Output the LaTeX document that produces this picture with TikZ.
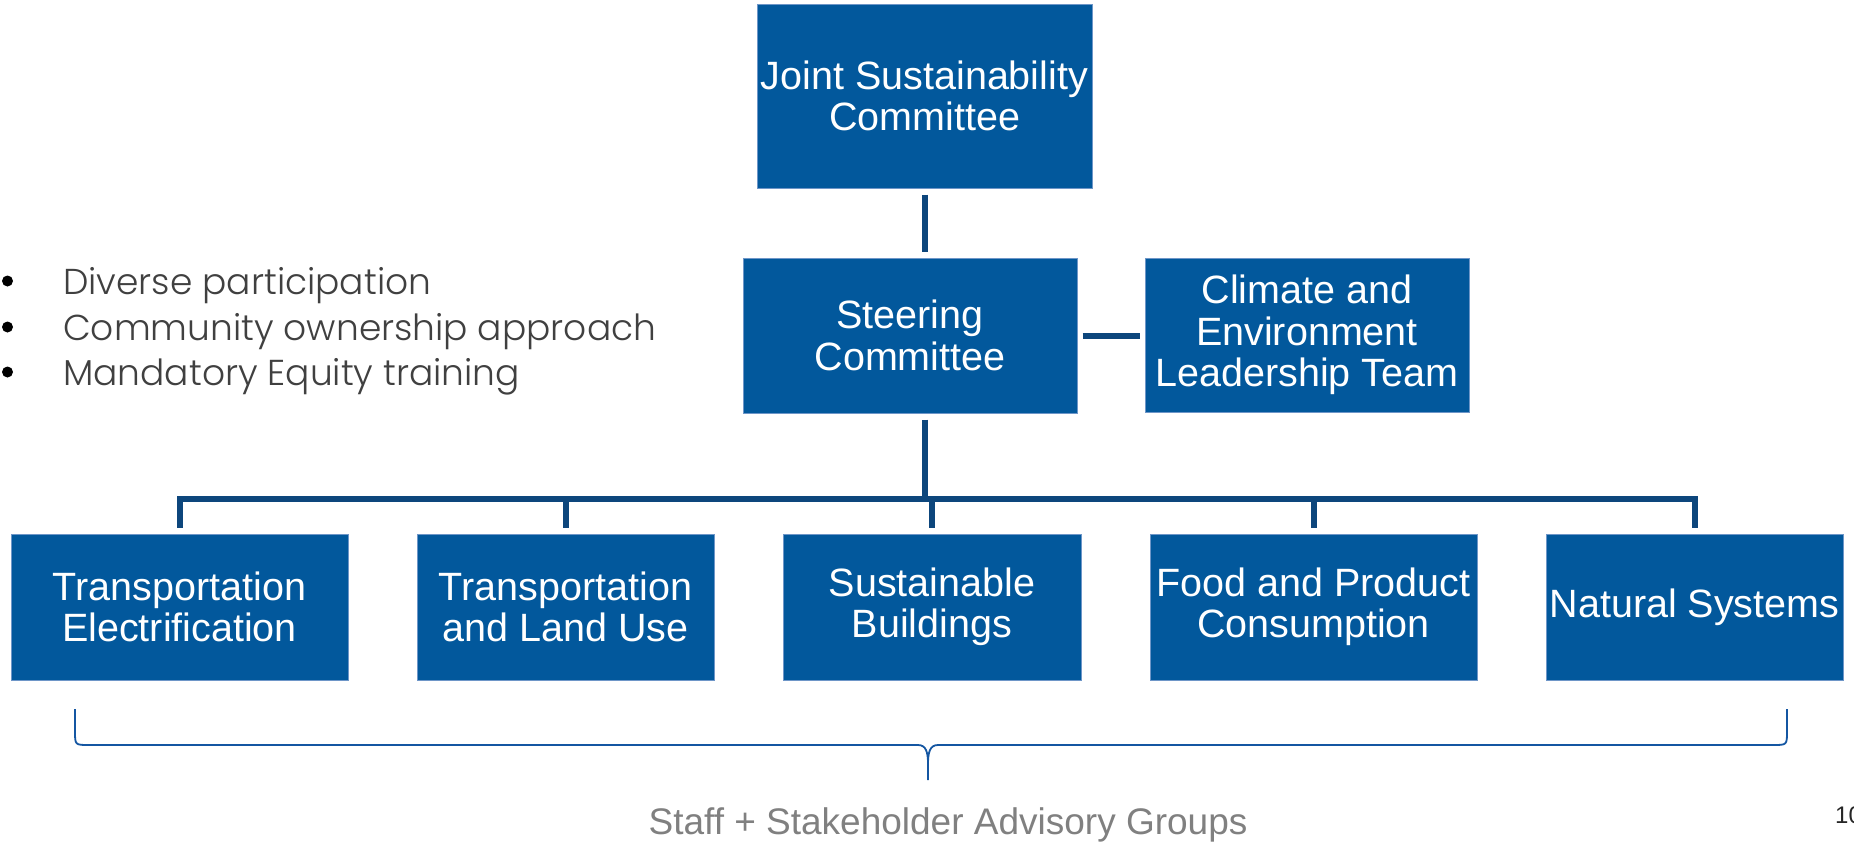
\documentclass[tikz,border=0pt]{standalone}
\usepackage{fontspec}
\setmainfont{Liberation Sans}
\newfontfamily\gothic{Poppins Light}
\definecolor{boxblue}{RGB}{2,88,156}
\definecolor{edgeblue}{RGB}{110,150,200}
\definecolor{connblue}{RGB}{13,70,124}
\definecolor{braceblue}{RGB}{20,86,162}
\definecolor{bulletgray}{RGB}{64,64,64}
\definecolor{staffgray}{RGB}{128,128,128}
\tikzset{
  orgbox/.style={draw=edgeblue, line width=1pt, fill=boxblue, text=white, inner sep=0pt,
    align=center, font=\fontsize{39.5}{41.5}\selectfont},
  conn/.style={draw=connblue, line width=6pt},
  bracepath/.style={draw=braceblue, line width=1.8pt},
  bullettext/.style={anchor=base west, inner sep=0pt, text=bulletgray, font=\gothic\fontsize{36}{40}\selectfont},
  bulletdot/.style={fill=black, draw=none}
}
\begin{document}
\begin{tikzpicture}[x=1pt,y=-1pt]
\useasboundingbox (0,0) rectangle (1854,844);
% boxes
\node[orgbox, minimum width=335pt, minimum height=184pt] (joint) at (924.5,96) {Joint Sustainability\\Committee};
\node[orgbox, minimum width=334pt, minimum height=155pt] (steer) at (910,335.5) {Steering\\Committee};
\node[orgbox, minimum width=324pt, minimum height=154pt] (clim) at (1307,335) {Climate and\\Environment\\Leadership Team};
\node[orgbox, minimum width=337pt, minimum height=146pt] (te) at (179.5,607) {Transportation\\Electrification};
\node[orgbox, minimum width=297pt, minimum height=146pt] (tl) at (565.5,607) {Transportation\\and Land Use};
\node[orgbox, minimum width=298pt, minimum height=146pt] (sb) at (932,607) {Sustainable\\Buildings};
\node[orgbox, minimum width=327pt, minimum height=146pt] (fp) at (1313.5,607) {Food and Product\\Consumption};
\node[orgbox, minimum width=297pt, minimum height=146pt] (ns) at (1694.5,607) {Natural Systems};
% connectors
\coordinate (bus) at (924.5,499);
\draw[conn, shorten <=6pt, shorten >=6pt] (joint.south) -- (joint.south |- steer.north);
\draw[conn, shorten <=6pt] (joint.south |- steer.south) -- (bus);
\draw[conn, shorten <=5pt, shorten >=5pt] (steer.east) -- (steer.east -| clim.west);
\draw[conn, shorten <=6pt, shorten >=6pt] (te.north) -- (te.north |- bus) -- (ns.north |- bus) -- (ns.north);
\draw[conn, shorten >=6pt] (tl.north |- bus) -- (tl.north);
\draw[conn, shorten >=6pt] (sb.north |- bus) -- (sb.north);
\draw[conn, shorten >=6pt] (fp.north |- bus) -- (fp.north);
% brace
\coordinate (bl) at (75,709);
\coordinate (br) at (1787,709);
\coordinate (tip) at (928,780);
\draw[bracepath] (bl) -- (75,731) .. controls (75,745) .. (89,745) -- (918,745) .. controls (926,745) and (928,752) .. (928,764) -- (tip);
\draw[bracepath] (br) -- (1787,731) .. controls (1787,745) .. (1773,745) -- (938,745) .. controls (930,745) and (928,752) .. (928,764);
\node[anchor=base, inner sep=0pt, text=staffgray, font=\fontsize{37}{40}\selectfont] (staff) at (948,834) {Staff + Stakeholder Advisory Groups};
% bullets
\fill[bulletdot] (7.5,281) circle (5.5pt);
\fill[bulletdot] (7.5,327) circle (5.5pt);
\fill[bulletdot] (7.5,372) circle (5.5pt);
\node[bullettext] (b1) at (63,294) {Diverse participation};
\node[bullettext] (b2) at (63,340) {Community ownership approach};
\node[bullettext] (b3) at (63,385) {Mandatory Equity training};
% page number
\node[anchor=base west, inner sep=0pt, text=black!85, font=\fontsize{24}{28}\selectfont] (pg) at (1835,823) {10};
\end{tikzpicture}
\end{document}
